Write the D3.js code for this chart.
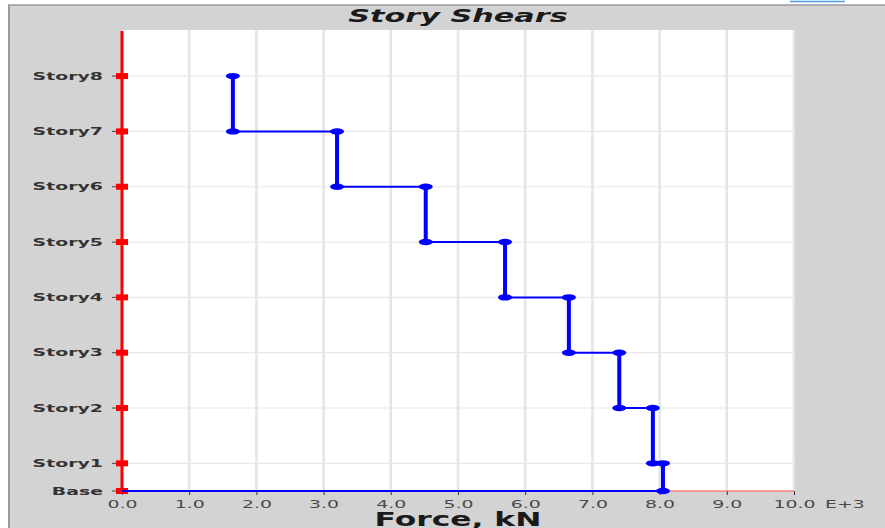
<!DOCTYPE html>
<html>
<head>
<meta charset="utf-8">
<script src="https://cdn.jsdelivr.net/npm/d3@7"></script>
<style>
  body { margin: 0; background: #fff; }
  svg { display: block; }
</style>
</head>
<body>
<svg></svg>
<script>
// story names and elevations (m), bottom up
const stories = ['Base', 'Story1', 'Story2', 'Story3', 'Story4', 'Story5', 'Story6', 'Story7', 'Story8'];
const elevations = [0, 1.5, 4.5, 7.5, 10.5, 13.5, 16.5, 19.5, 22.5];
// shear in each story (kN E+3), Story1..Story8
const shears = [8.05, 7.9, 7.4, 6.65, 5.7, 4.52, 3.2, 1.65];
const xTicks = [0, 1, 2, 3, 4, 5, 6, 7, 8, 9, 10];

const W = 885, H = 528;
const svg = d3.select('svg').attr('width', W).attr('height', H);

const x = d3.scaleLinear().domain([0, 10]).range([122, 794]);
const y = d3.scaleLinear().domain([0, 25]).range([491, 30]);

// the source picture has horizontally stretched text
function stretched(parent, px, py, sx, str) {
    return parent.append('text')
        .attr('transform', `translate(${px},${py}) scale(${sx},1)`)
        .text(str);
}

/**
 * Frame.
 */
svg.append('rect').attr('x', 8).attr('y', 5).attr('width', W - 8).attr('height', H - 5).attr('fill', '#d3d3d3');
svg.append('line').attr('x1', 8).attr('x2', W).attr('y1', 5).attr('y2', 5).attr('stroke', '#9a9a9a').attr('stroke-width', 1.5);
svg.append('line').attr('x1', 9).attr('x2', 9).attr('y1', 5).attr('y2', H).attr('stroke', '#9a9a9a').attr('stroke-width', 2);
svg.append('line').attr('x1', 790).attr('x2', 845).attr('y1', 1.5).attr('y2', 1.5).attr('stroke', '#4a9be6').attr('stroke-width', 1.5);

stretched(svg, 458, 22, 1.78, 'Story Shears')
    .attr('text-anchor', 'middle')
    .style('font', 'italic bold 17px "DejaVu Sans", sans-serif')
    .attr('fill', '#1a1a1a');

/**
 * Plot area and grid.
 */
svg.append('rect')
    .attr('x', x(0)).attr('y', y(25))
    .attr('width', x(10) - x(0)).attr('height', y(0) - y(25))
    .attr('fill', '#fff');

svg.append('g').selectAll('line').data(xTicks.slice(1))
    .join('line')
    .attr('x1', d => x(d)).attr('x2', d => x(d))
    .attr('y1', y(25)).attr('y2', y(0))
    .attr('stroke', '#e4e4e4').attr('stroke-width', 2.5);

svg.append('g').selectAll('line').data(elevations.slice(1))
    .join('line')
    .attr('x1', x(0)).attr('x2', x(10))
    .attr('y1', d => y(d)).attr('y2', d => y(d))
    .attr('stroke', '#e8e8e8').attr('stroke-width', 1.2);

/**
 * Axes.
 */
const xAxis = svg.append('g')
    .attr('transform', `translate(0,${y(0)})`)
    .call(d3.axisBottom(x).tickValues(xTicks).tickSize(4).tickFormat(d3.format('.1f')));
xAxis.select('.domain').remove();
xAxis.selectAll('.tick line').attr('stroke', '#333');
xAxis.selectAll('.tick text')
    .attr('y', 0).attr('dy', 0)
    .attr('transform', 'translate(0,17) scale(1.8,1)')
    .style('font', '10.5px "DejaVu Sans", sans-serif')
    .attr('fill', '#4a4a4a');

stretched(svg, 825, y(0) + 17, 1.8, 'E+3')
    .style('font', '10.5px "DejaVu Sans", sans-serif')
    .attr('fill', '#4a4a4a');

const storyY = d3.scaleOrdinal().domain(stories).range(elevations.map(e => y(e)));
const yAxis = svg.append('g')
    .attr('transform', `translate(${x(0) - 4},0)`)
    .call(d3.axisLeft(d3.scalePoint().domain(stories).range([0, 1])).tickSize(6));
yAxis.select('.domain').remove();
yAxis.selectAll('.tick').attr('transform', d => `translate(0,${storyY(d)})`);
yAxis.selectAll('.tick line').attr('stroke', '#444');
yAxis.selectAll('.tick text')
    .attr('x', 0)
    .attr('transform', 'translate(-15,0) scale(1.72,1)')
    .style('font', 'bold 11px "DejaVu Sans", sans-serif')
    .attr('fill', '#333');

stretched(svg, 458, 526, 1.65, 'Force, kN')
    .attr('text-anchor', 'middle')
    .style('font', 'bold 19px "DejaVu Sans", sans-serif')
    .attr('fill', '#1a1a1a');

/**
 * Zero (red) line.
 */
svg.append('line')
    .attr('x1', x(0)).attr('x2', x(0))
    .attr('y1', y(25) + 1).attr('y2', y(0))
    .attr('stroke', '#ff0000').attr('stroke-width', 3);
svg.append('line')
    .attr('x1', x(shears[0])).attr('x2', x(10))
    .attr('y1', y(0)).attr('y2', y(0))
    .attr('stroke', '#ff5050').attr('stroke-width', 1.2);
svg.append('g').selectAll('rect').data(elevations)
    .join('rect')
    .attr('x', x(0) - 6).attr('y', d => y(d) - 3)
    .attr('width', 12).attr('height', 6)
    .attr('fill', '#ff0000');

/**
 * Story shear steps (blue).
 */
const blue = '#0000ff';
// base line
svg.append('line')
    .attr('x1', x(0)).attr('x2', x(shears[0]))
    .attr('y1', y(0)).attr('y2', y(0))
    .attr('stroke', blue).attr('stroke-width', 2);

// horizontal connectors at each story floor
const steps = shears.slice(1).map((v, i) => ({ from: v, to: shears[i], e: elevations[i + 1] }));
svg.append('g').selectAll('line').data(steps)
    .join('line')
    .attr('x1', d => x(d.from)).attr('x2', d => x(d.to))
    .attr('y1', d => y(d.e)).attr('y2', d => y(d.e))
    .attr('stroke', blue).attr('stroke-width', 2);

// vertical segments, one per story
const segs = shears.map((v, i) => ({ v, e0: elevations[i], e1: elevations[i + 1] }));
svg.append('g').selectAll('line').data(segs)
    .join('line')
    .attr('x1', d => x(d.v)).attr('x2', d => x(d.v))
    .attr('y1', d => y(d.e0)).attr('y2', d => y(d.e1))
    .attr('stroke', blue).attr('stroke-width', 4);

const caps = segs.flatMap(d => [{ v: d.v, e: d.e0 }, { v: d.v, e: d.e1 }]);
svg.append('g').selectAll('ellipse').data(caps)
    .join('ellipse')
    .attr('cx', d => x(d.v)).attr('cy', d => y(d.e))
    .attr('rx', 7).attr('ry', 3.2)
    .attr('fill', blue);
</script>
</body>
</html>
